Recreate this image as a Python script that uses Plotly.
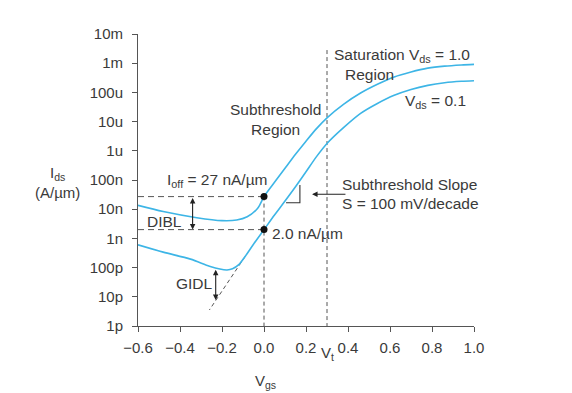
import numpy as np
import plotly.graph_objects as go

# ---------------- data ----------------
x_ticks = [-0.6, -0.4, -0.2, 0.0, 0.2, 0.4, 0.6, 0.8, 1.0]
x_ticktext = ["\u22120.6", "\u22120.4", "\u22120.2", "0.0", "0.2", "0.4", "0.6", "0.8", "1.0"]
y_tick_exp = [-12, -11, -10, -9, -8, -7, -6, -5, -4, -3, -2]
y_ticktext = ["1p", "10p", "100p", "1n", "10n", "100n", "1u", "10u", "100u", "1m", "10m"]

# Vds = 1.0 curve (log10 of Ids in A/um)
vgs_hi = [-0.6, -0.48, -0.32, -0.2, -0.13, -0.08, -0.03, 0.0, 0.05, 0.1, 0.15, 0.2,
          0.25, 0.3, 0.38, 0.46, 0.54, 0.62, 0.7, 0.78, 0.86, 0.94, 1.0]
log_ids_hi = [-7.87, -8.08, -8.29, -8.39, -8.37, -8.26, -7.97, -7.57, -7.08, -6.6, -6.12, -5.67,
              -5.24, -4.87, -4.4, -4.02, -3.72, -3.47, -3.3, -3.17, -3.1, -3.06, -3.04]

# Vds = 0.1 curve
vgs_lo = [-0.6, -0.48, -0.35, -0.26, -0.21, -0.176, -0.15, -0.12, -0.09, -0.05, 0.0, 0.05,
          0.1, 0.15, 0.2, 0.25, 0.3, 0.38, 0.46, 0.54, 0.62, 0.7, 0.78, 0.86, 0.94, 1.0]
log_ids_lo = [-9.22, -9.47, -9.71, -9.95, -10.05, -10.08, -10.04, -9.9, -9.62, -9.2, -8.70, -8.2,
              -7.72, -7.23, -6.72, -6.2, -5.75, -5.2, -4.72, -4.38, -4.1, -3.9, -3.76, -3.67, -3.62, -3.6]

ioff_hi = 27e-9      # A/um at Vgs = 0, Vds = 1.0
ioff_lo = 2.0e-9     # A/um at Vgs = 0, Vds = 0.1
vt = 0.3
vt_line_top_log = -2.55

# extrapolated subthreshold line (GIDL reference)
gidl_vgs = [-0.09, -0.26]
gidl_log = [-9.62, -11.45]

# subthreshold-slope triangle
tri_vgs = [0.105, 0.171, 0.171]
tri_log = [-7.78, -7.78, -7.17]

# ---------------- style ----------------
blue = "#3db5e6"
ink = "#3a3a3a"
axis_c = "#555555"
FONT = "Liberation Sans, Arial, sans-serif"
fs = 15

fig = go.Figure()

# dashed guide lines
dash_kw = dict(mode="lines", hoverinfo="skip", showlegend=False)
fig.add_trace(go.Scatter(x=[-0.6, 0.0], y=[ioff_hi, ioff_hi],
                         line=dict(color=axis_c, width=1, dash="6px,4px"), **dash_kw))
fig.add_trace(go.Scatter(x=[-0.6, 0.0], y=[ioff_lo, ioff_lo],
                         line=dict(color=axis_c, width=1, dash="6px,4px"), **dash_kw))
fig.add_trace(go.Scatter(x=[0.0, 0.0], y=[ioff_hi, 1e-12],
                         line=dict(color=axis_c, width=1, dash="4px,3px"), **dash_kw))
fig.add_trace(go.Scatter(x=[vt, vt], y=[10 ** vt_line_top_log, 1e-12],
                         line=dict(color=axis_c, width=1, dash="4px,3px"), **dash_kw))
fig.add_trace(go.Scatter(x=gidl_vgs, y=list(10 ** np.array(gidl_log)),
                         line=dict(color=axis_c, width=1, dash="4px,3px"), **dash_kw))

# curves
fig.add_trace(go.Scatter(x=vgs_hi, y=list(10 ** np.array(log_ids_hi)), mode="lines",
                         line=dict(color=blue, width=1.6, shape="spline", smoothing=0.8),
                         hoverinfo="skip", showlegend=False))
fig.add_trace(go.Scatter(x=vgs_lo, y=list(10 ** np.array(log_ids_lo)), mode="lines",
                         line=dict(color=blue, width=1.6, shape="spline", smoothing=0.8),
                         hoverinfo="skip", showlegend=False))

# triangle
fig.add_trace(go.Scatter(x=tri_vgs, y=list(10 ** np.array(tri_log)), mode="lines",
                         line=dict(color="#333333", width=1.1), hoverinfo="skip", showlegend=False))

# dots
fig.add_trace(go.Scatter(x=[0.0, 0.0], y=[ioff_hi, ioff_lo], mode="markers",
                         marker=dict(color="#111111", size=7), hoverinfo="skip", showlegend=False))

ann = []
def txt(x, y, s, xanchor="left", size=fs):
    ann.append(dict(x=x, y=y, xref="x", yref="y", text=s, showarrow=False,
                    xanchor=xanchor, yanchor="middle", font=dict(family=FONT, size=size, color=ink)))

txt(0.324, -2.75, "Saturation V<sub>ds</sub> = 1.0", size=15.5)
txt(0.376, -3.40, "Region", size=15.5)
txt(0.662, -4.32, "V<sub>ds</sub> = 0.1", size=15.5)
ann.append(dict(x=0.056, y=-4.945, xref="x", yref="y", text="Subthreshold<br>Region",
                showarrow=False, xanchor="center", yanchor="middle", align="center",
                font=dict(family=FONT, size=15.5, color=ink)))
txt(-0.471, -7.02, "I<sub>off</sub> = 27 nA/\u00b5m", size=15.5)
txt(0.029, -8.815, "2.0 nA/\u00b5m", size=15.5)
txt(-0.474, -8.43, "DIBL", xanchor="center", size=15.5)
txt(-0.331, -10.54, "GIDL", xanchor="center", size=15.5)
txt(0.362, -7.17, "Subthreshold Slope", size=15.5)
txt(0.362, -7.80, "S = 100 mV/decade", size=15.5)

# arrows
def arrow(x, y, ax, ay, both=True):
    ann.append(dict(x=x, y=y, ax=ax, ay=ay, xref="x", yref="y", axref="x", ayref="y",
                    showarrow=True, arrowhead=2, startarrowhead=2, arrowsize=1, startarrowsize=1,
                    arrowwidth=1.1, arrowcolor="#222222",
                    arrowside="end+start" if both else "end", text=""))

arrow(-0.340, float(np.log10(ioff_lo)), -0.340, float(np.log10(ioff_hi)))
arrow(-0.230, -11.11, -0.230, -10.02)
arrow(0.229, -7.49, 0.395, -7.49, both=False)

# axis titles (positions relative to the plot area: 336 px wide, 292 px tall)
ann.append(dict(x=(57 - 138) / 336, y=(326 - 183) / 292, xref="paper", yref="paper",
                text="I<sub>ds</sub><br>(A/\u00b5m)", showarrow=False, xanchor="center",
                yanchor="middle", align="center", font=dict(family=FONT, size=fs, color=ink)))
ann.append(dict(x=(265 - 138) / 336, y=(326 - 381) / 292, xref="paper", yref="paper",
                text="V<sub>gs</sub>", showarrow=False, xanchor="center",
                yanchor="middle", font=dict(family=FONT, size=fs, color=ink)))
ann.append(dict(x=vt, y=(326 - 353) / 292, xref="x", yref="paper",
                text="V<sub>t</sub>", showarrow=False, xanchor="center",
                yanchor="middle", font=dict(family=FONT, size=fs, color=ink)))

# page body has an 8 px margin, so offset the plot margins to land on the reference pixels
fig.update_layout(
    annotations=ann,
    width=572, height=393,
    margin=dict(l=130, r=106, t=26, b=75),
    paper_bgcolor="white", plot_bgcolor="white",
    font=dict(family=FONT, size=fs, color=ink),
    xaxis=dict(range=[-0.6, 1.0], tickvals=x_ticks, ticktext=x_ticktext,
               showline=True, linecolor=axis_c, linewidth=1, ticks="outside", ticklen=5,
               tickcolor=axis_c, showgrid=False, zeroline=False, ticklabelstandoff=3,
               tickfont=dict(family=FONT, size=fs, color=ink)),
    yaxis=dict(type="log", range=[-12, -2], tickvals=[10.0 ** e for e in y_tick_exp],
               ticktext=y_ticktext, showline=True, linecolor=axis_c, linewidth=1,
               ticks="outside", ticklen=5, tickcolor=axis_c, showgrid=False, zeroline=False,
               ticklabelstandoff=6, tickfont=dict(family=FONT, size=fs, color=ink)),
)

fig.write_html("out.html")
